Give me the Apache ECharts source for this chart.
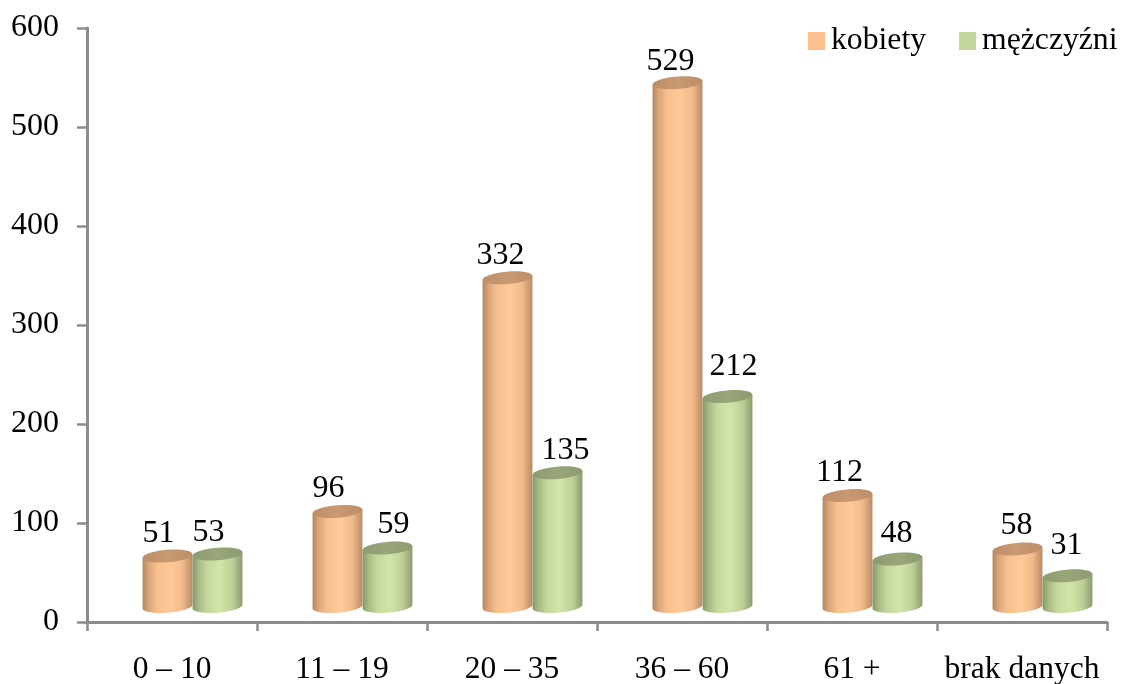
<!DOCTYPE html>
<html><head><meta charset="utf-8">
<style>html,body{margin:0;padding:0;background:#fff}#c{width:1122px;height:684px}</style>
<script src="https://cdn.jsdelivr.net/npm/echarts@6/dist/echarts.min.js"></script>
</head><body><div id="c"></div>
<script>
const categories = ['0 – 10', '11 – 19', '20 – 35', '36 – 60', '61 +', 'brak danych'];
const kobiety = [51, 96, 332, 529, 112, 58];
const mezczyzni = [53, 59, 135, 212, 48, 31];
const yTicks = { min: 0, max: 600, interval: 100 };

// label nudges relative to the cylinder top (manual chart-label placement)
const kobietyLabelShift = [[-9,-22],[-9,-23],[-7,-22],[-7,-21],[-8,-23],[-1,-23]];
const mezczyzniLabelShift = [[-9,-21],[6,-23],[8,-22],[6,-30],[-1,-25],[-1,-30]];

const FONT = '"Liberation Serif","Times New Roman",serif';
const FS = 32, FS_CAT = 31.5, FS_LEG = 31.7;
const chart = echarts.init(document.getElementById('c'), null, {renderer:'canvas'});

const RX = 25, RY = 6.2, TILT = -4.6 * Math.PI / 180, FLOOR = 15.5, NUDGE = 0.5;
function ell(cx, cy, t){
  const a = RX*Math.cos(t), b = RY*Math.sin(t);
  return [cx + a*Math.cos(TILT) - b*Math.sin(TILT), cy + a*Math.sin(TILT) + b*Math.cos(TILT)];
}
function cylinder(side, stops, top, topEdge, shifts){
  return function(params, api){
    const i = api.value(0), v = api.value(1);
    const pTop = api.coord([i, v]), pBase = api.coord([i, 0]);
    const unit = api.size([1, 0])[0] / 170;
    const cx = pTop[0] + unit*(20 + side*25) + NUDGE;
    const ct = pTop[1] - FLOOR, cb = pBase[1] - FLOOR;
    const pts = [ell(cx, ct, Math.PI), ell(cx, ct, 0)];
    for (let k = 0; k <= 40; k++) pts.push(ell(cx, cb, k/40*Math.PI));
    return { type:'group', children:[
      { type:'polygon', shape:{points:pts},
        style:{fill:new echarts.graphic.LinearGradient(0,0,1,0,stops)} },
      { type:'ellipse', x:cx, y:ct, rotation:-TILT, originX:0, originY:0,
        shape:{cx:0, cy:0, rx:RX, ry:RY},
        style:{fill:new echarts.graphic.LinearGradient(0,0,1,0,[
          {offset:0,color:topEdge},{offset:0.5,color:top},{offset:1,color:topEdge}])} },
      { type:'text', x:cx + shifts[i][0], y:ct + shifts[i][1],
        style:{text:String(v), fill:'#000', font:FS+'px '+FONT, textAlign:'center', textVerticalAlign:'middle'} }
    ]};
  };
}
const orangeStops = [{offset:0,color:'#B5855C'},{offset:0.12,color:'#D8A67A'},{offset:0.3,color:'#F8C08E'},{offset:0.55,color:'#FFC998'},{offset:0.8,color:'#F0BA8A'},{offset:1,color:'#B98B64'}];
const greenStops = [{offset:0,color:'#87986A'},{offset:0.12,color:'#A8BA84'},{offset:0.3,color:'#C6D89E'},{offset:0.55,color:'#D2E4A8'},{offset:0.8,color:'#BFD097'},{offset:1,color:'#8B9B6E'}];

chart.setOption({
  animation:false,
  backgroundColor:'#fff',
  grid:{left:87,right:15,top:28,bottom:62,containLabel:false,outerBoundsMode:'none'},
  legend:{
    top:20, left:803, width:600, itemWidth:17, itemHeight:18, itemGap:33, icon:'rect',
    textStyle:{fontFamily:FONT,fontSize:FS_LEG,color:'#000',padding:[2,0,0,1]},
    data:['kobiety','mężczyźni']
  },
  xAxis:{
    type:'category', data:categories, boundaryGap:true,
    axisLine:{lineStyle:{color:'#8C8C8C',width:3}},
    axisTick:{show:true,length:9,lineStyle:{color:'#8C8C8C',width:2.5}},
    axisLabel:{fontFamily:FONT,fontSize:FS_CAT,color:'#000',margin:32,interval:0}
  },
  yAxis:{
    type:'value', min:yTicks.min, max:yTicks.max, interval:yTicks.interval,
    splitLine:{show:false},
    axisLine:{show:true,lineStyle:{color:'#8C8C8C',width:3}},
    axisTick:{show:true,length:10,lineStyle:{color:'#8C8C8C',width:2.5}},
    axisLabel:{fontFamily:FONT,fontSize:FS,color:'#000',margin:28,padding:[4,0,0,0]}
  },
  series:[
    {name:'kobiety',type:'custom',clip:false,itemStyle:{color:'#FDC08D'},
     encode:{x:0,y:1},data:kobiety.map((v,i)=>[i,v]),
     renderItem:cylinder(-1,orangeStops,'#C99A72','#BD8E67',kobietyLabelShift)},
    {name:'mężczyźni',type:'custom',clip:false,itemStyle:{color:'#C4D69B'},
     encode:{x:0,y:1},data:mezczyzni.map((v,i)=>[i,v]),
     renderItem:cylinder(1,greenStops,'#98A67A','#8D9B70',mezczyzniLabelShift)}
  ]
});
</script></body></html>
